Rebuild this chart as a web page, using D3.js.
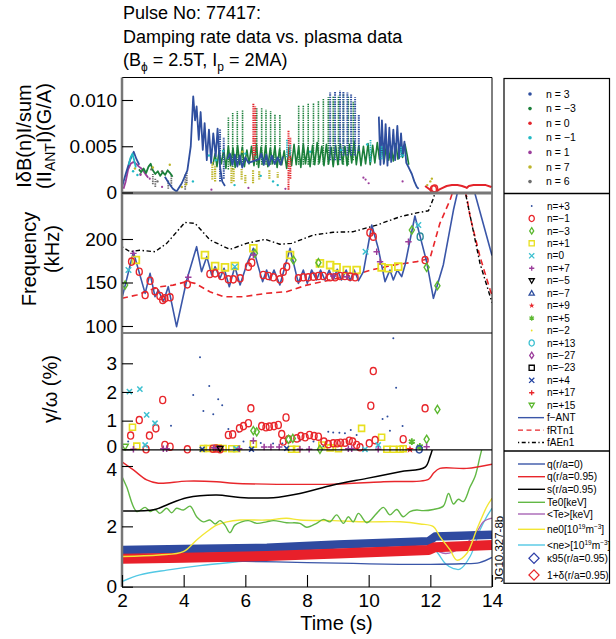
<!DOCTYPE html>
<html><head><meta charset="utf-8">
<script src="https://cdn.jsdelivr.net/npm/d3@7"></script>
<style>
body{margin:0;background:#fff;}
svg text{font-family:"Liberation Sans",Arial,Helvetica,sans-serif;fill:#000;}
</style></head><body>
<svg id="c" width="616" height="639"></svg>
<script>
// ---------------- DATA ----------------
const titleLines = ["Pulse No: 77417:", "Damping rate data vs. plasma data"];
const xTicks = [2,4,6,8,10,12,14];
const xTickLabels = ["2","4","6","8","10","12","14"];
const p1Ticks = [0,0.005,0.010], p1TickLabels = ["0","0.005","0.010"];
const p2Ticks = [100,150,200], p2TickLabels = ["100","150","200"];
const p3Ticks = [0,1,2,3], p3TickLabels = ["0","1","2","3"];
const p4Ticks = [0,2,4], p4TickLabels = ["0","2","4"];

// Panel 1: |dB(n)|/sum(|I_ANT|) (G/A)
const ampN3Segments = [
 [[2.00,0.0006],[2.12,0.0020],[2.26,0.0035],[2.38,0.0044],[2.47,0.0036],[2.56,0.0030]],
 [[3.39,0.0017],[3.52,0.0010],[3.65,0.0004],[3.77,0.0001],[3.94,0.0010],[4.12,0.0024],[4.23,0.0050],[4.31,0.0104],[4.37,0.0078],[4.42,0.0093],[4.49,0.0057],[4.55,0.0087],[4.62,0.0046],[4.68,0.0075],[4.75,0.0035],[4.82,0.0068],[4.89,0.0032],[4.96,0.0064],[5.04,0.0039],[5.10,0.0069],[5.18,0.0028],[5.25,0.0012],[5.34,0.0007]],
 [[5.42,0.0036],[5.50,0.0042],[5.58,0.0030],[5.66,0.0041],[5.74,0.0028],[5.82,0.0040],[5.90,0.0027],[6.00,0.0038],[6.10,0.0032],[6.45,0.0036],[6.52,0.0042],[6.60,0.0030],[6.68,0.0041],[6.76,0.0029],[6.86,0.0040],[6.95,0.0031],[7.05,0.0038],[7.15,0.0030],[7.22,0.0039]],
 [[10.33,0.0082],[10.38,0.0030],[10.43,0.0078],[10.49,0.0031],[10.55,0.0074],[10.61,0.0029],[10.67,0.0070],[10.73,0.0033],[10.80,0.0068],[10.86,0.0035],[10.93,0.0072],[10.99,0.0037],[11.05,0.0064],[11.10,0.0040],[11.16,0.0055],[11.22,0.0032],[11.30,0.0027],[11.40,0.0020],[11.48,0.0012],[11.56,0.0006],[11.62,0.0004]]
];
const ampN3Streaks = [[5.18,0.0012,0.0068],[5.30,0.0015,0.0060],[8.75,0.0035,0.0108],[8.91,0.0035,0.0109],[9.07,0.0035,0.0110],[9.18,0.0040,0.0109],[9.31,0.0040,0.0108],[9.43,0.0040,0.0106],[9.56,0.0040,0.0103],[9.68,0.0045,0.0084]];
const ampNm3Early = [[2.55,0.0025],[2.62,0.0022],[2.70,0.0026],[2.78,0.0021],[2.86,0.0028],[2.93,0.0031],[3.00,0.0024],[3.08,0.0020],[3.16,0.0023],[3.24,0.0018],[3.32,0.0022],[3.40,0.0019],[3.48,0.0024],[3.56,0.0021],[3.64,0.0017]];
const ampNm3Band = [[4.95,0.0030],[5.02,0.0042],[5.08,0.0028],[5.15,0.0045],[5.22,0.0031],[5.30,0.0047],[5.37,0.0026],[5.45,0.0050],[5.52,0.0029],[5.60,0.0048],[5.67,0.0027],[5.75,0.0051],[5.82,0.0030],[5.90,0.0049],[5.97,0.0028],[6.05,0.0046],[6.12,0.0031],[6.20,0.0050],[6.28,0.0029],[6.36,0.0052],[6.43,0.0027],[6.51,0.0049],[6.58,0.0030],[6.66,0.0051],[6.73,0.0028],[6.81,0.0048],[6.88,0.0031],[6.96,0.0050],[7.03,0.0027],[7.11,0.0047],[7.18,0.0030],[7.26,0.0045],[7.34,0.0026],[7.42,0.0049],[7.50,0.0029],[7.58,0.0052],[7.65,0.0030],[7.73,0.0050],[7.80,0.0027],[7.88,0.0053],[7.95,0.0031],[8.03,0.0049],[8.10,0.0028],[8.18,0.0051],[8.25,0.0030],[8.33,0.0054],[8.40,0.0032],[8.48,0.0050],[8.55,0.0029],[8.63,0.0052],[8.70,0.0031],[8.78,0.0049],[8.85,0.0028],[8.93,0.0051],[9.00,0.0030],[9.08,0.0053],[9.15,0.0031],[9.23,0.0050],[9.30,0.0029],[9.38,0.0052],[9.45,0.0032],[9.53,0.0055],[9.60,0.0030],[9.68,0.0051],[9.75,0.0029],[9.83,0.0050],[9.90,0.0031],[9.98,0.0053],[10.05,0.0030],[10.13,0.0051],[10.20,0.0032],[10.28,0.0054],[10.35,0.0036],[10.43,0.0049],[10.50,0.0033],[10.58,0.0052],[10.65,0.0035],[10.73,0.0050],[10.80,0.0034],[10.88,0.0053],[10.95,0.0036],[11.03,0.0050],[11.10,0.0038],[11.18,0.0052],[11.25,0.0040],[11.30,0.0030]];
const ampNm3Streaks = [[5.45,0.0025,0.0082],[5.59,0.0025,0.0086],[5.74,0.0030,0.0088],[5.91,0.0030,0.0089],[6.37,0.0030,0.0092],[6.53,0.0030,0.0092],[6.67,0.0030,0.0090],[6.82,0.0030,0.0088],[6.96,0.0030,0.0085],[7.12,0.0030,0.0084],[7.73,0.0030,0.0094],[7.88,0.0030,0.0094],[8.04,0.0030,0.0096],[8.21,0.0030,0.0097],[8.37,0.0030,0.0099],[8.53,0.0030,0.0101],[8.69,0.0030,0.0103],[8.85,0.0030,0.0104],[9.02,0.0030,0.0105],[9.18,0.0030,0.0106],[9.34,0.0030,0.0104],[9.50,0.0035,0.0098]];
const ampN0Streaks = [[6.26,0.0035,0.0096],[6.32,0.0040,0.0093],[7.40,0.0003,0.0067],[7.46,0.0015,0.0060]];
const ampN0Late = [[11.83,0.0007],[11.95,0.0004],[12.06,0.0001],[12.16,0.0000],[12.28,0.0003],[12.40,0.0005],[12.53,0.0007],[12.70,0.0008],[12.88,0.0008],[13.03,0.0007],[13.12,0.0006],[13.18,0.0005],[13.25,0.0007],[13.40,0.0008],[13.60,0.0008],[13.80,0.0008],[13.98,0.0006]];
const ampN1Trace = [[2.05,0.0004],[2.12,0.0012],[2.20,0.0025],[2.28,0.0031],[2.37,0.0033],[2.46,0.0031],[2.55,0.0028],[2.63,0.0026],[2.70,0.0023],[2.78,0.0019],[2.85,0.0016]];
const ampN1Dots = [[2.90,0.0015],[3.30,0.0006],[4.90,0.0003],[6.10,0.0005],[7.30,0.0004],[9.83,0.0016],[9.90,0.0014],[10.00,0.0010],[11.10,0.0012],[2.60,0.0019]];
const ampNm1Trace = [[2.22,0.0030],[2.28,0.0038],[2.34,0.0042],[2.40,0.0034],[2.45,0.0027]];
const ampNm1Streaks = [[7.35,0.0038,0.0057],[7.45,0.0040,0.0052],[10.06,0.0033,0.0057],[10.42,0.0036,0.0050],[11.05,0.0038,0.0050]];
const ampNm1Dots = [[2.36,0.0023],[2.50,0.0019],[4.82,0.0040],[5.05,0.0035],[5.28,0.0045],[6.00,0.0042],[6.50,0.0018],[8.10,0.0044],[9.10,0.0046],[9.95,0.0052],[11.12,0.0040],[6.90,0.0012],[7.05,0.0008],[5.65,0.0008],[4.30,0.0012]];
const ampN7Streaks = [[4.93,0.0014,0.0033],[5.02,0.0012,0.0030],[5.55,0.0010,0.0028],[5.62,0.0012,0.0027],[5.88,0.0014,0.0026],[6.00,0.0010,0.0020],[6.25,0.0010,0.0025],[6.45,0.0014,0.0024],[6.78,0.0015,0.0024],[7.05,0.0016,0.0022]];
const ampN7Dots = [[2.42,0.0026],[3.00,0.0027],[3.55,0.0030],[3.94,0.0006],[4.08,0.0009],[5.90,0.0044],[11.90,0.0008],[12.00,0.0012],[12.05,0.0015]];
const ampN6Streaks = [[3.00,0.0009,0.0020],[3.08,0.0006,0.0016],[3.50,0.0004,0.0014],[3.60,0.0007,0.0020],[4.05,0.0003,0.0020],[4.10,0.0010,0.0022]];
const ampN6Dots = [[2.95,0.0025],[3.30,0.0023],[2.60,0.0020],[3.15,0.0012]];

// Panel 2: Frequency (kHz)
const fANT = [[2.00,132],[2.37,185],[2.75,137.5],[2.91,160.5],[3.07,133.7],[3.18,141.4],[3.34,128],[3.50,145.2],[3.77,99.2],[4.10,152.9],[4.42,191.2],[4.58,162.4],[4.75,179.7],[4.91,158.6],[5.02,168.2],[5.18,154.8],[5.31,166.3],[5.48,145.2],[5.66,168.2],[5.83,147.1],[6.04,170.1],[6.26,189.3],[6.42,168.2],[6.56,151],[6.69,164.4],[6.80,152.9],[6.93,164.4],[7.12,147.1],[7.45,189.3],[7.72,149],[7.88,164.4],[8.01,149],[8.15,164.4],[8.31,152.9],[8.44,164.4],[8.58,152.9],[8.72,164.4],[8.85,152.9],[8.98,165.1],[9.12,152.9],[9.27,164.4],[9.40,152.1],[9.53,164.4],[9.67,152.1],[9.83,162.4],[10.10,216.1],[10.31,189.3],[10.53,151],[10.69,164.4],[10.80,152.9],[10.93,164.4],[11.07,156.7],[11.18,170.1],[11.50,226.4],[11.67,202.7],[11.88,173.9],[12.10,131.8],[12.42,170.1],[12.75,233.3],[12.96,266],[13.34,266],[14.00,181]];
const fRTn1 = [[2.00,131.8],[2.48,135.6],[2.91,141.4],[3.23,145],[3.66,147],[4.10,151],[4.37,149],[4.85,139.4],[5.29,133.7],[5.93,133.7],[6.69,137.6],[7.34,139.4],[7.99,147],[8.85,153.7],[9.50,158.6],[10.15,165],[10.80,170],[11.56,174],[11.99,177.8],[12.31,218],[12.64,244.8],[12.80,262],[13.05,262],[13.18,248.6],[13.29,225.6],[13.61,179.6],[13.94,141.4],[14.00,135]];
const fAEn1 = [[2.00,191],[2.26,185.4],[2.58,187],[3.07,185.4],[3.45,195],[4.04,219],[4.37,218],[4.85,199],[5.50,188],[6.04,195],[6.64,199.6],[7.12,194],[7.50,195],[8.21,204.6],[8.85,207.7],[9.50,208.4],[10.26,216],[11.02,225.6],[11.56,230],[11.94,232.5],[12.10,246.8],[12.22,262],[13.05,262],[13.12,256],[13.61,172],[14.00,127]];
const fNm1 = [[2.31,174],[2.56,162.4],[2.91,152],[2.75,135.6],[3.07,140],[3.23,134.5],[3.32,130],[3.39,131.8],[3.56,133],[4.12,147.9],[4.85,159.8],[5.02,160.5],[5.23,157.5],[5.45,153.6],[5.61,153.6],[5.83,154.8],[6.10,168.2],[6.21,172.8],[6.58,158.6],[6.75,157.5],[6.91,156],[7.12,153.6],[7.23,162.4],[7.34,168.2],[7.72,154.8],[7.88,156],[8.04,156],[8.21,156.7],[8.37,157.5],[8.53,157.5],[8.75,156],[8.91,156],[9.07,157.5],[9.23,157.5],[9.40,156.7],[9.56,156],[10.04,207.3],[10.15,202.7],[11.83,175.8],[12.10,257],[12.14,258]];
const fP1 = [[2.45,175.8],[4.69,181.6],[5.02,169],[5.34,167.4],[5.66,169],[6.26,189.3],[7.45,181.6],[8.42,172],[8.75,170],[8.96,167.4],[9.29,164.4],[9.61,164.4],[10.42,167.4],[10.64,166.3],[10.96,168.2]];
const fNm3 = [[2.10,147.1],[6.31,183.5],[7.56,175.8],[8.37,172.8],[11.40,210.3],[11.88,167.4],[12.23,146.3]];
const fN0 = [[2.21,164.4],[5.66,168.2],[9.90,185.4],[11.61,216.1]];
const fP7 = [[2.37,183.5],[4.15,156],[6.26,181.6],[8.85,157.5],[9.29,156.7],[10.26,185.4],[10.37,173.9],[11.29,196.9]];
const fP13 = [[11.67,202.7]];

// Panel 3: gamma/omega (%)
const gNm1 = [[2.28,0.48],[2.56,1.02],[2.78,0.0],[2.89,0.48],[3.10,0.73],[3.32,1.72],[3.39,0.15],[3.56,0.09],[4.12,0.0],[4.95,0.02],[5.05,0.03],[5.18,0.0],[5.45,0.50],[5.59,0.52],[5.81,0.73],[5.94,0.81],[6.10,0.91],[6.18,1.43],[6.53,0.81],[6.67,0.77],[6.78,0.79],[6.93,0.81],[7.07,0.85],[7.18,0.53],[7.23,0.27],[7.32,1.11],[7.40,0.35],[7.67,0.38],[7.80,0.46],[7.94,0.42],[8.08,0.50],[8.23,0.46],[8.37,0.44],[8.55,0.27],[8.69,0.18],[8.85,0.21],[8.98,0.21],[9.09,0.23],[9.23,0.23],[9.37,0.30],[9.48,0.27],[9.61,0.15],[9.72,0.07],[10.02,0.21],[10.07,1.52],[10.15,2.73],[10.21,0.32],[11.12,0.35],[11.83,1.43]];
const gP3 = [[2.20,0.27],[3.59,0.82],[4.31,1.89],[4.53,3.21],[4.64,1.34],[4.83,2.21],[4.96,1.22],[5.12,1.75],[5.25,1.54],[5.45,0.71],[5.77,0.61],[5.94,0.27],[6.50,0.22],[6.90,0.20],[7.20,0.20],[7.77,0.30],[8.21,0.27],[8.53,0.11],[8.69,0.61],[8.85,0.59],[9.05,0.58],[9.23,0.56],[9.42,0.67],[9.61,0.50],[10.45,1.06],[10.61,1.14],[10.69,0.65],[10.80,3.87],[10.89,2.15],[11.10,0.81]];
const gP1 = [[2.34,0.77],[2.48,0.11],[4.64,0.03],[4.78,0.03],[4.96,0.03],[5.12,0.04],[5.28,0.03],[5.56,0.02],[5.72,0.02],[6.26,0.18],[7.50,0.0],[7.66,0.0],[8.48,0.15],[8.75,0.05],[9.02,0.02],[9.77,0.73],[10.42,0.42],[10.59,0.0],[10.80,0.0],[11.02,0.0],[11.12,0.02]];
const gNm3 = [[6.26,0.65],[6.37,0.61],[7.40,0.35],[7.54,0.38],[8.42,0.0],[11.88,0.35],[12.23,1.39]];
const gP15 = [[2.10,0.09]];
const gN0 = [[2.24,2.01],[2.58,2.10],[2.80,1.20],[3.07,0.91],[2.75,0.15],[5.70,0.02],[9.88,0.0],[10.31,0.15]];
const gP7 = [[2.37,0.0],[3.34,0.02],[3.45,0.02],[4.98,0.05],[5.10,0.04],[5.80,0.02],[6.26,0.30],[6.61,0.08],[6.83,0.08],[7.10,0.08],[7.77,0.0],[8.07,0.0],[9.34,0.02],[9.45,0.02],[10.31,0.0],[11.88,0.09]];
const gP4 = [[4.60,0.0],[6.20,0.0],[7.34,0.03]];
const gP9 = [[11.34,0.0]];
const gP5 = [[11.40,0.27],[11.66,0.10]];
const gP13 = [[11.64,0.0]];
const gNm5 = [[5.18,0.02]];

// Panel 4: plasma profiles
const q0 = [[2.0,0.95],[3.0,0.90],[4.5,0.86],[6.0,0.84],[8.0,0.80],[9.5,0.77],[11.0,0.74],[12.0,0.74],[13.0,0.76],[13.6,0.80],[14.0,0.97]];
const q95 = [[2.00,4.14],[2.37,3.87],[2.80,3.54],[3.18,3.43],[4.10,3.50],[5.07,3.48],[5.61,3.43],[6.69,3.40],[8.85,3.40],[10.48,3.48],[11.94,3.56],[12.10,3.76],[12.31,3.92],[13.18,3.92],[14.00,4.06]];
const s95 = [[2.00,2.51],[3.07,2.56],[3.45,2.71],[4.10,2.95],[5.07,3.04],[5.83,2.96],[6.91,2.95],[7.77,3.09],[8.85,3.37],[9.94,3.59],[11.02,3.81],[11.83,3.96],[11.99,4.31],[12.08,4.60]];
const te0 = [[2.00,3.65],[2.15,3.31],[2.48,2.49],[2.75,2.63],[2.91,2.49],[3.07,2.56],[3.23,2.43],[3.45,2.60],[3.61,2.45],[3.77,2.60],[3.99,2.54],[4.21,2.67],[4.42,2.32],[4.64,2.15],[4.85,2.21],[5.02,2.08],[5.18,2.19],[5.34,2.04],[5.50,1.79],[5.66,2.04],[5.88,2.15],[6.10,2.19],[6.37,2.10],[6.69,2.15],[6.91,2.19],[7.34,2.12],[7.77,2.10],[7.99,1.97],[8.31,2.10],[8.53,2.23],[8.75,2.15],[8.96,2.38],[9.18,2.10],[9.34,2.32],[9.50,2.15],[9.67,2.43],[9.94,2.12],[10.26,2.43],[10.48,2.63],[10.69,2.38],[10.91,2.56],[11.12,2.32],[11.34,2.49],[11.56,2.54],[11.77,2.52],[12.10,2.56],[12.42,2.67],[12.59,3.09],[12.75,2.74],[12.91,2.90],[13.07,2.82],[13.29,3.31],[13.45,3.65],[13.61,4.31],[13.72,4.75]];
const teAvg = [[2.0,1.20],[4.0,1.25],[8.0,1.20],[12.0,1.25],[12.5,1.10],[13.0,1.30],[13.5,1.80],[13.72,2.15],[14.0,2.27]];
const ne0 = [[2.00,1.00],[3.20,1.05],[3.99,1.16],[4.42,1.55],[4.75,1.82],[5.07,2.04],[5.40,2.15],[5.83,2.21],[6.69,2.21],[7.34,2.27],[7.77,2.21],[8.85,2.19],[9.94,2.15],[11.02,2.15],[11.67,2.08],[12.10,1.99],[12.31,1.66],[12.64,1.22],[12.86,0.88],[13.18,1.10],[13.50,1.88],[13.83,2.65],[14.00,2.93]];
const neAvg = [[2.00,0.17],[2.58,0.39],[3.45,0.55],[4.53,0.70],[6.00,0.85],[8.00,1.05],[10.00,1.20],[11.50,1.30],[12.05,1.30],[12.25,1.10],[12.50,0.75],[12.75,0.60],[12.96,0.58],[13.29,1.00],[13.61,1.88],[13.83,2.32],[14.00,2.60]];
const kappa95 = [[2.0,1.22],[4.0,1.25],[6.7,1.29],[9.0,1.40],[11.95,1.51],[12.15,1.66],[13.0,1.69],[14.0,1.72]];
const delta95 = [[2.0,0.93],[4.0,0.96],[6.7,1.02],[9.0,1.10],[11.95,1.22],[12.15,1.31],[13.0,1.34],[14.0,1.38]];

// Legends
const legend1 = [["n = 3","#2f4f9f"],["n = −3","#1b7f3a"],["n = 0","#e3242b"],["n = −1","#21b9c4"],["n = 1","#9b3d9b"],["n = 7","#bdb52a"],["n = 6","#6d6d6d"]];
const legend2 = [["n=+3","tinydot","#2f4f9f"],["n=−1","circle","#e8262b"],["n=−3","diamond","#5cb830"],["n=+1","square","#e8e020"],["n=0","x","#3cc0d0"],["n=+7","plus","#9b3d9b"],["n=−5","tridown","#000000"],["n=−7","triup","#2f4f9f"],["n=+9","star","#e8262b"],["n=+5","asterisk","#5cb830"],["n=−2","tinydot","#e8e020"],["n=+13","circle","#3cc0d0"],["n=−27","diamond","#9b3d9b"],["n=−23","square","#000000"],["n=+4","x","#2040a0"],["n=+17","plus","#e8262b"],["n=+15","tridown","#5cb830"],["f−ANT","solid","#3a56a8"],["fRTn1","dash","#e8262b"],["fAEn1","dashdot","#000000"]];
const legend3 = [["q(r/a=0)","line","#3a56a8"],["q(r/a=0.95)","line","#e8262b"],["s(r/a=0.95)","line","#000000"],["Te0[keV]","line","#62b845"],["<Te>[keV]","line","#a865b5"],["ne0[10|19|m|−3|]","line","#f2e634"],["<ne>[10|19|m|−3|]","line","#52c8e4"],["κ95(r/a=0.95)","diamond","#2f3fa8"],["1+δ(r/a=0.95)","diamond","#e8262b"]];

// ---------------- DRAWING ----------------
const svg = d3.select("#c");
const xL = 122, xR = 492;
const x = d3.scaleLinear().domain([2,14]).range([xL,xR]);
const PT = {p1:[77.5,193],p2:[193,333],p3:[333,450],p4:[450,587]};
const y1 = d3.scaleLinear().domain([0,0.010]).range([192.5,100]);
const y2 = d3.scaleLinear().domain([100,200]).range([326,239]);
const y3 = d3.scaleLinear().domain([0,3]).range([449.3,363.3]);
const y4 = d3.scaleLinear().domain([0,4]).range([586.7,466]);

const defs = svg.append("defs");
Object.entries(PT).forEach(([k,[t,b]])=>{
  defs.append("clipPath").attr("id","clip_"+k).append("rect").attr("x",xL).attr("y",t).attr("width",xR-xL).attr("height",b-t);
});

function symPath(type,s){
  switch(type){
    case "dot": case "tinydot": return `M${-s},0A${s},${s} 0 1,0 ${s},0A${s},${s} 0 1,0 ${-s},0Z`;
    case "circle": { const ry=s*1.2; return `M${-s},0A${s},${ry} 0 1,0 ${s},0A${s},${ry} 0 1,0 ${-s},0Z`; }
    case "diamond": return `M0,${-s*1.35}L${s*0.85},0L0,${s*1.35}L${-s*0.85},0Z`;
    case "square": return `M${-s},${-s}H${s}V${s}H${-s}Z`;
    case "x": return `M${-s},${-s}L${s},${s}M${-s},${s}L${s},${-s}`;
    case "plus": return `M${-s},0H${s}M0,${-s}V${s}`;
    case "tridown": return `M${-s},${-s*0.75}L${s},${-s*0.75}L0,${s}Z`;
    case "triup": return `M${-s},${s*0.75}L${s},${s*0.75}L0,${-s}Z`;
    case "star": { let p=""; for(let i=0;i<10;i++){const r=i%2?s*0.45:s*1.15; const a=-Math.PI/2+i*Math.PI/5; p+=(i?"L":"M")+(r*Math.cos(a)).toFixed(2)+","+(r*Math.sin(a)).toFixed(2);} return p+"Z"; }
    case "asterisk": { let p=""; for(let i=0;i<3;i++){const a=Math.PI/2+i*Math.PI/3; const dx=s*Math.cos(a), dy=s*Math.sin(a); p+=`M${(-dx).toFixed(2)},${(-dy).toFixed(2)}L${dx.toFixed(2)},${dy.toFixed(2)}`;} return p; }
  }
}
const FILLED = new Set(["dot","tinydot","star"]);

function marks(g,data,ys,type,color,s,sw){
  g.append("g").selectAll("path").data(data).join("path")
    .attr("transform",d=>`translate(${x(d[0]).toFixed(2)},${ys(d[1]).toFixed(2)})`)
    .attr("d",symPath(type,s))
    .attr("fill",FILLED.has(type)?color:"none")
    .attr("stroke",FILLED.has(type)?"none":color)
    .attr("stroke-width",sw||1.3);
}
function line(g,data,ys,color,sw,dash,curve){
  const p=g.append("path").datum(data)
    .attr("d",d3.line().x(d=>x(d[0])).y(d=>ys(d[1])).curve(curve||d3.curveLinear))
    .attr("fill","none").attr("stroke",color).attr("stroke-width",sw)
    .attr("stroke-linejoin","round");
  if(dash) p.attr("stroke-dasharray",dash);
  return p;
}
function streaks(g,data,color,sw){
  g.append("g").selectAll("line").data(data).join("line")
    .attr("x1",d=>x(d[0])).attr("x2",d=>x(d[0]))
    .attr("y1",d=>y1(d[1])).attr("y2",d=>y1(d[2]))
    .attr("stroke",color).attr("stroke-width",sw||1.8).attr("stroke-dasharray","1.4,0.9");
}

// ----- Panel 1 -----
const g1 = svg.append("g").attr("clip-path","url(#clip_p1)");
streaks(g1,ampN6Streaks,"#6d6d6d",1.8);
marks(g1,ampN6Dots,y1,"dot","#6d6d6d",1.2);
line(g1,ampN1Trace,y1,"#9b3d9b",1.8);
marks(g1,ampN1Dots,y1,"dot","#9b3d9b",1.1);
line(g1,ampNm3Early,y1,"#1b7f3a",1.8);
line(g1,ampNm3Band,y1,"#1b7f3a",1.6);
streaks(g1,ampNm3Streaks,"#1b7f3a",1.6);
streaks(g1,ampN7Streaks,"#bdb52a",2.2);
marks(g1,ampN7Dots,y1,"dot","#bdb52a",1.2);
streaks(g1,ampN0Streaks,"#e3242b",2.0);
ampN3Segments.forEach(seg=>line(g1,seg,y1,"#2f4f9f",1.8));
streaks(g1,ampN3Streaks,"#2f4f9f",2.0);
line(g1,ampNm1Trace,y1,"#21b9c4",1.8);
streaks(g1,ampNm1Streaks,"#21b9c4",1.8);
marks(g1,ampNm1Dots,y1,"dot","#21b9c4",1.2);
line(g1,ampN0Late,y1,"#e3242b",2.0);

// ----- Panel 2 -----
const g2c = svg.append("g").attr("clip-path","url(#clip_p2)");
line(g2c,fRTn1,y2,"#e8262b",1.6,"6,4");
line(g2c,fAEn1,y2,"#000",1.4,"1.5,2.5,4.5,2.5");
line(g2c,fANT,y2,"#3a56a8",1.6);
const g2 = svg.append("g");
marks(g2,fP1,y2,"square","#e8e020",3.4,1.8);
marks(g2,fNm1,y2,"circle","#e8262b",3.0,1.4);
marks(g2,fNm3,y2,"diamond","#5cb830",3.0,1.4);
marks(g2,fN0,y2,"x","#3cc0d0",2.8,1.4);
marks(g2,fP7,y2,"plus","#9b3d9b",3.2,1.4);
marks(g2,fP13,y2,"circle","#2a8a9a",3.0,1.4);

// ----- Panel 3 -----
const g3 = svg.append("g");
marks(g3,gP3,y3,"tinydot","#2f4f9f",1.0);
marks(g3,gP1,y3,"square","#e8e020",3.0,1.6);
marks(g3,gNm1,y3,"circle","#e8262b",3.0,1.4);
marks(g3,gNm3,y3,"diamond","#5cb830",3.0,1.4);
marks(g3,gP15,y3,"tridown","#5cb830",3.2,1.4);
marks(g3,gN0,y3,"x","#3cc0d0",2.6,1.5);
marks(g3,gP7,y3,"plus","#9b3d9b",3.2,1.5);
marks(g3,gP4,y3,"x","#2040a0",2.4,1.5);
marks(g3,gP9,y3,"star","#e8262b",3.6);
marks(g3,gP5,y3,"asterisk","#5cb830",3.4,1.8);
marks(g3,gP13,y3,"circle","#2f4f9f",3.0,1.5);
marks(g3,gNm5,y3,"tridown","#000",3.0,1.3);

// ----- Panel 4 -----
const g4 = svg.append("g").attr("clip-path","url(#clip_p4)");
const cr = d3.curveCatmullRom.alpha(0.5);
line(g4,neAvg,y4,"#52c8e4",1.3,null,cr);
line(g4,teAvg,y4,"#a865b5",1.3,null,cr);
line(g4,q0,y4,"#3a56a8",1.3,null,cr);
line(g4,kappa95,y4,"#2f4aa0",8.5);
line(g4,delta95,y4,"#e8202a",10);
line(g4,ne0,y4,"#f2e634",1.4,null,cr);
line(g4,te0,y4,"#62b845",1.4,null,cr);
line(g4,q95,y4,"#e8262b",1.4,null,cr);
line(g4,s95,y4,"#000",1.5,null,cr);

// ----- Frames -----
const fr = svg.append("g");
fr.append("line").attr("x1",xL).attr("x2",xR).attr("y1",77.5).attr("y2",77.5).attr("stroke","#000").attr("stroke-width",1);
fr.append("line").attr("x1",xR).attr("x2",xR).attr("y1",77.5).attr("y2",587).attr("stroke","#000").attr("stroke-width",1);
fr.append("line").attr("x1",xL).attr("x2",xR).attr("y1",333).attr("y2",333).attr("stroke","#000").attr("stroke-width",1);
fr.append("line").attr("x1",xL).attr("x2",xR).attr("y1",449.8).attr("y2",449.8).attr("stroke","#000").attr("stroke-width",1.2);
fr.append("line").attr("x1",xL).attr("x2",xR).attr("y1",587).attr("y2",587).attr("stroke","#000").attr("stroke-width",1);
fr.append("line").attr("x1",xL).attr("x2",xR).attr("y1",193).attr("y2",193).attr("stroke","#777").attr("stroke-width",3);
fr.append("line").attr("x1",xL).attr("x2",xL).attr("y1",77.5).attr("y2",587).attr("stroke","#777").attr("stroke-width",2.5);

// ----- Axes -----
function yAxis(scale,vals,labels,nudge){
  const ax = d3.axisLeft(scale).tickValues(vals).tickFormat((d,i)=>labels[i]).tickSize(-11).tickPadding(5);
  const g = svg.append("g").attr("transform",`translate(${xL},0)`).call(ax);
  g.select(".domain").remove();
  g.selectAll("text").attr("font-size",19).attr("font-family",null).attr("fill","#000")
    .attr("y",(d)=> (nudge && nudge[d]) ? nudge[d] : 0);
  g.selectAll("line").attr("stroke","#000").attr("stroke-width",1.1);
}
yAxis(y1,p1Ticks,p1TickLabels);
yAxis(y2,p2Ticks,p2TickLabels);
yAxis(y3,p3Ticks,p3TickLabels,{0:-3});
yAxis(y4,p4Ticks,p4TickLabels,{4:3});
const bx = d3.axisBottom(x).tickValues(xTicks).tickFormat((d,i)=>xTickLabels[i]).tickSize(-12).tickPadding(7);
const gb = svg.append("g").attr("transform","translate(0,587)").call(bx);
gb.select(".domain").remove();
gb.selectAll("text").attr("font-size",19).attr("font-family",null).attr("fill","#000");
gb.selectAll("line").attr("stroke","#000").attr("stroke-width",1.1);

// ----- Titles and labels -----
svg.append("text").attr("x",123).attr("y",19).attr("font-size",18).text(titleLines[0]);
svg.append("text").attr("x",123).attr("y",43).attr("font-size",18).text(titleLines[1]);
const t3 = svg.append("text").attr("x",123).attr("y",66).attr("font-size",18);
t3.append("tspan").text("(B");
t3.append("tspan").attr("dy",5).attr("font-size",12).text("ϕ");
t3.append("tspan").attr("dy",-5).text(" = 2.5T, I");
t3.append("tspan").attr("dy",5).attr("font-size",12).text("p");
t3.append("tspan").attr("dy",-5).text(" = 2MA)");

function vlabel(xp,yp,size){
  return svg.append("text").attr("transform",`translate(${xp},${yp}) rotate(-90)`).attr("text-anchor","middle").attr("font-size",size);
}
vlabel(31,136,20).text("IδB(n)I/sum");
const l2 = vlabel(51,136,20);
l2.append("tspan").text("(II");
l2.append("tspan").attr("dy",4).attr("font-size",14).text("ANT");
l2.append("tspan").attr("dy",-4).text("I)(G/A)");
vlabel(36,259,20).text("Frequency");
vlabel(59,249,20).text("(kHz)");
vlabel(57,389,20).text("γ/ω (%)");
svg.append("text").attr("x",336.5).attr("y",630).attr("text-anchor","middle").attr("font-size",20).text("Time (s)");
svg.append("text").attr("transform","translate(503,549) rotate(-90)").attr("text-anchor","middle").attr("font-size",11.5).text("JG10.327-8b");

// ----- Legends -----
const lg = svg.append("g");
lg.append("rect").attr("x",504).attr("y",78.5).attr("width",105.5).attr("height",504.8).attr("fill","none").attr("stroke","#000").attr("stroke-width",1.2);
lg.append("line").attr("x1",504).attr("x2",609.5).attr("y1",193.5).attr("y2",193.5).attr("stroke","#000").attr("stroke-width",1.6);
lg.append("line").attr("x1",504).attr("x2",609.5).attr("y1",451).attr("y2",451).attr("stroke","#000").attr("stroke-width",1.6);

legend1.forEach((d,i)=>{
  const yy = 94 + i*14.6;
  lg.append("circle").attr("cx",530).attr("cy",yy).attr("r",1.8).attr("fill",d[1]);
  lg.append("text").attr("x",546).attr("y",yy+3.6).attr("font-size",10.5).text(d[0]);
});
legend2.forEach((d,i)=>{
  const yy = 206 + i*12.45;
  const [name,type,color] = d;
  if(type==="solid"||type==="dash"||type==="dashdot"){
    const l = lg.append("line").attr("x1",518).attr("x2",544).attr("y1",yy).attr("y2",yy).attr("stroke",color).attr("stroke-width",1.4);
    if(type==="dash") l.attr("stroke-dasharray","5,3.5");
    if(type==="dashdot") l.attr("stroke-dasharray","1.2,2.5,4,2.5");
  } else {
    const s = type==="tinydot"?0.9:(type==="diamond"?2.4:2.6);
    lg.append("path").attr("transform",`translate(531.7,${yy})`).attr("d",symPath(type,s))
      .attr("fill",FILLED.has(type)?color:"none").attr("stroke",FILLED.has(type)?"none":color).attr("stroke-width",1.3);
  }
  lg.append("text").attr("x",547).attr("y",yy+3.6).attr("font-size",10).text(name);
});
const l3y = [464,476.7,489.3,502.3,514,529.3,545,558.3,575];
legend3.forEach((d,i)=>{
  const yy = l3y[i];
  const [name,type,color] = d;
  if(type==="line"){
    lg.append("line").attr("x1",518).attr("x2",545).attr("y1",yy).attr("y2",yy).attr("stroke",color).attr("stroke-width",1.4);
  } else {
    lg.append("path").attr("d",symPath("square",3.6)).attr("transform",`translate(534,${yy}) rotate(45)`)
      .attr("fill","none").attr("stroke",color).attr("stroke-width",1.2);
  }
  const t = lg.append("text").attr("x",547).attr("y",yy+3.6).attr("font-size",10.2);
  const parts = name.split("|");
  parts.forEach((p,j)=>{
    const ts = t.append("tspan").text(p);
    if(j%2===1){ ts.attr("font-size",6.5).attr("dy",-4); }
    else if(j>0){ ts.attr("dy",4); }
  });
});
</script></body></html>
